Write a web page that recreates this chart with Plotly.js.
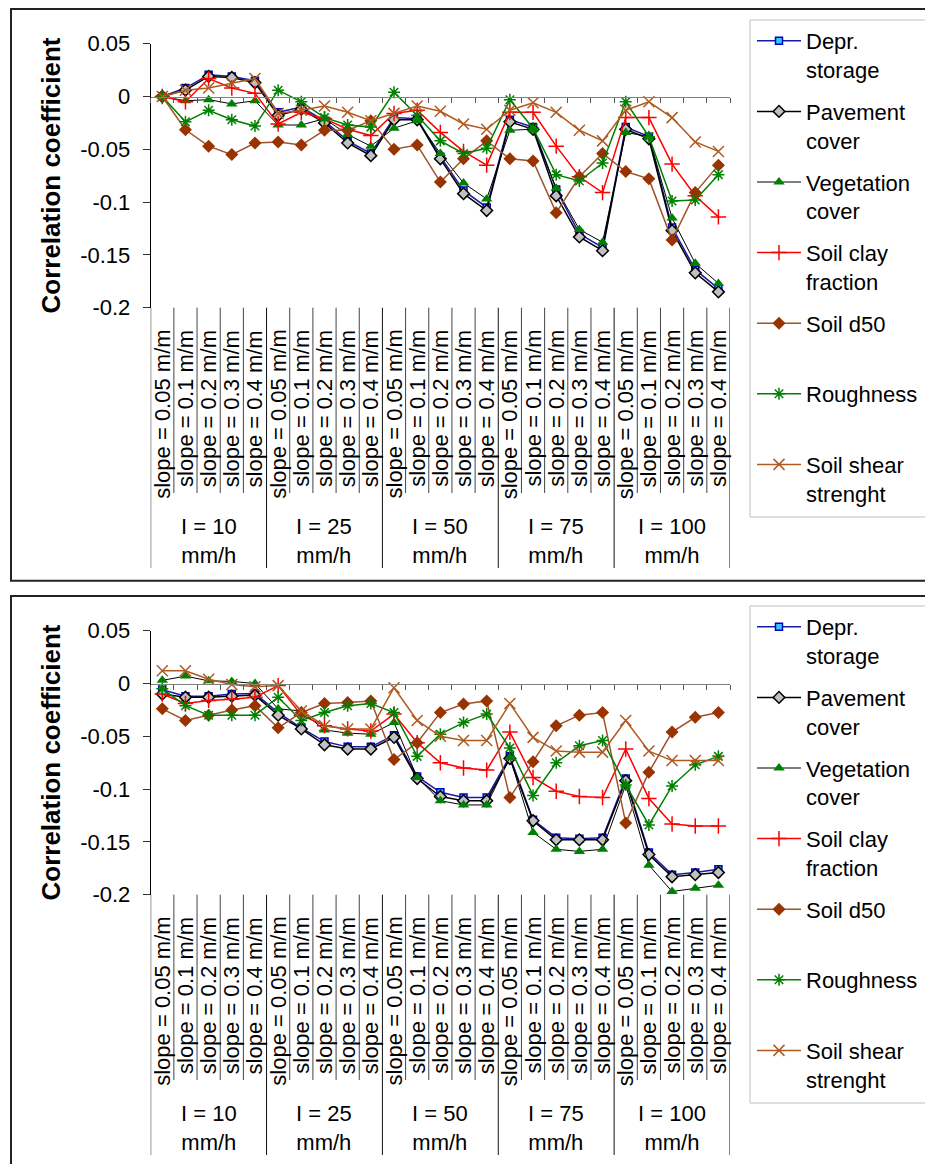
<!DOCTYPE html>
<html><head><meta charset="utf-8">
<script src="https://cdn.plot.ly/plotly-3.0.1.min.js"></script>
<style>html,body{margin:0;padding:0;background:#fff}#chart{width:925px;height:1164px}</style>
</head><body><div id="chart"></div>
<script>
// ---------- data ----------
const slopes = ["slope = 0.05 m/m","slope = 0.1 m/m","slope = 0.2 m/m","slope = 0.3 m/m","slope = 0.4 m/m"];
const intensities = ["I = 10","I = 25","I = 50","I = 75","I = 100"];
const intensityUnit = "mm/h";
const seriesNames = ["Depr.<br>storage","Pavement<br>cover","Vegetation<br>cover","Soil clay<br>fraction","Soil d50<br>&nbsp;","Roughness<br>&nbsp;","Soil shear<br>strenght"];
const yTickVals = [0.05, 0, -0.05, -0.1, -0.15, -0.2];
const yTickText = ["0.05", "0", "-0.05", "-0.1", "-0.15", "-0.2"];
const yTitle = "Correlation coefficient";

// top chart
const deprTop  = [0, 0.008, 0.0205, 0.019, 0.015, -0.015, -0.010, -0.023, -0.042, -0.054, -0.020, -0.021, -0.057, -0.089, -0.105, -0.022, -0.029, -0.088, -0.130, -0.143, -0.029, -0.038, -0.124, -0.164, -0.182];
const paveTop  = [0, 0.006, 0.019, 0.018, 0.013, -0.018, -0.012, -0.025, -0.044, -0.056, -0.022, -0.022, -0.059, -0.092, -0.108, -0.024, -0.031, -0.094, -0.133, -0.146, -0.031, -0.040, -0.127, -0.167, -0.185];
const vegTop   = [0, -0.004, -0.003, -0.007, -0.004, -0.027, -0.027, -0.021, -0.036, -0.047, -0.030, -0.023, -0.054, -0.082, -0.097, -0.032, -0.031, -0.087, -0.126, -0.138, -0.034, -0.038, -0.115, -0.158, -0.177];
const clayTop  = [0, -0.005, 0.017, 0.008, 0.003, -0.026, -0.015, -0.021, -0.031, -0.037, -0.016, -0.013, -0.034, -0.052, -0.065, -0.015, -0.015, -0.047, -0.076, -0.091, -0.020, -0.020, -0.064, -0.094, -0.114];
const d50Top   = [0, -0.0315, -0.047, -0.055, -0.044, -0.043, -0.046, -0.032, -0.032, -0.023, -0.050, -0.046, -0.081, -0.059, -0.042, -0.059, -0.061, -0.110, -0.076, -0.054, -0.071, -0.078, -0.136, -0.091, -0.065];
const roughTop = [0, -0.024, -0.013, -0.022, -0.028, 0.006, -0.005, -0.020, -0.027, -0.029, 0.004, -0.018, -0.042, -0.054, -0.049, -0.003, -0.030, -0.074, -0.080, -0.063, -0.005, -0.038, -0.099, -0.098, -0.074];
const shearTop = [0, 0.006, 0.008, 0.0125, 0.017, -0.016, -0.013, -0.009, -0.015, -0.023, -0.016, -0.009, -0.014, -0.026, -0.031, -0.013, -0.006, -0.015, -0.032, -0.042, -0.013, -0.005, -0.020, -0.043, -0.052];

// bottom chart
const deprBot  = [-0.006, -0.012, -0.012, -0.010, -0.0095, -0.0275, -0.042, -0.055, -0.060, -0.060, -0.049, -0.088, -0.103, -0.108, -0.108, -0.069, -0.129, -0.146, -0.147, -0.146, -0.090, -0.160, -0.181, -0.179, -0.176];
const paveBot  = [-0.010, -0.013, -0.013, -0.012, -0.011, -0.030, -0.043, -0.058, -0.062, -0.062, -0.051, -0.090, -0.107, -0.111, -0.111, -0.071, -0.130, -0.148, -0.148, -0.148, -0.092, -0.162, -0.183, -0.181, -0.179];
const vegBot   = [0.003, 0.007, 0.0025, 0.002, 0.0, -0.024, -0.026, -0.044, -0.047, -0.048, -0.037, -0.089, -0.111, -0.115, -0.115, -0.070, -0.141, -0.157, -0.159, -0.157, -0.096, -0.172, -0.197, -0.194, -0.191];
const clayBot  = [-0.010, -0.019, -0.016, -0.015, -0.013, -0.002, -0.030, -0.040, -0.043, -0.045, -0.029, -0.056, -0.075, -0.080, -0.082, -0.046, -0.089, -0.102, -0.107, -0.108, -0.062, -0.109, -0.133, -0.135, -0.135];
const d50Bot   = [-0.024, -0.035, -0.030, -0.025, -0.021, -0.042, -0.0275, -0.019, -0.018, -0.0165, -0.072, -0.056, -0.0275, -0.0195, -0.0165, -0.108, -0.074, -0.040, -0.030, -0.0275, -0.132, -0.084, -0.046, -0.032, -0.0275];
const roughBot = [-0.005, -0.021, -0.030, -0.030, -0.030, -0.013, -0.035, -0.0275, -0.021, -0.019, -0.0275, -0.069, -0.048, -0.037, -0.029, -0.061, -0.106, -0.075, -0.059, -0.054, -0.096, -0.134, -0.097, -0.077, -0.069];
const shearBot = [0.012, 0.012, 0.004, -0.001, -0.003, -0.002, -0.026, -0.040, -0.043, -0.043, -0.004, -0.035, -0.050, -0.054, -0.054, -0.019, -0.051, -0.064, -0.065, -0.065, -0.035, -0.064, -0.073, -0.073, -0.073];

// ---------- layout helpers ----------
const W = 925, H = 1164;
const py = p => 1 - p / H;
const FONT = "Liberation Sans, Arial, sans-serif";
const nCat = intensities.length * slopes.length;
const catIndex = Array.from({length: nCat}, (_, i) => i);

const styles = [
  {line: {color: "#1a1aa8", width: 1.5}, marker: {symbol: "square", size: 7, color: "#33ccff", line: {color: "#0000cc", width: 1.5}}},
  {line: {color: "#000000", width: 1.5}, marker: {symbol: "diamond", size: 9, color: "#c0c0c0", line: {color: "#000000", width: 1.5}}},
  {line: {color: "#000000", width: 1}, marker: {symbol: "triangle-up", size: 10, color: "#008000", line: {width: 0}}},
  {line: {color: "#ff0000", width: 1.5}, marker: {symbol: "cross-thin-open", size: 11, color: "#ff0000", line: {color: "#ff0000", width: 1.5}}},
  {line: {color: "#a0522d", width: 1.5}, marker: {symbol: "diamond", size: 10, color: "#993300", line: {width: 0}}},
  {line: {color: "#008000", width: 1.5}, marker: {symbol: "asterisk-open", size: 10, color: "#008000", line: {color: "#008000", width: 1.5}}},
  {line: {color: "#b05a20", width: 1.5}, marker: {symbol: "x-thin-open", size: 11, color: "#b05a20", line: {color: "#b05a20", width: 1.5}}}
];

const panels = [
  {off: 0, sfx: "", legend: "legend", series: [deprTop, paveTop, vegTop, clayTop, d50Top, roughTop, shearTop], boxTop: 9, boxBot: 580.7, legTop: 20},
  {off: 587, sfx: "2", legend: "legend2", series: [deprBot, paveBot, vegBot, clayBot, d50Bot, roughBot, shearBot], boxTop: 596, boxBot: 1200, legTop: 606}
];

const xDom = [150.7 / W, 730 / W];
const data = [];
const layout = {
  width: W, height: H, margin: {l: 0, r: 0, t: 0, b: 0},
  paper_bgcolor: "#ffffff", plot_bgcolor: "rgba(0,0,0,0)",
  font: {family: FONT, size: 22, color: "#000"},
  showlegend: true, annotations: [], shapes: []
};

panels.forEach((p, pi) => {
  const o = p.off;
  const xa = "xaxis" + p.sfx, ya = "yaxis" + p.sfx;
  const xr = "x" + p.sfx, yr = "y" + p.sfx;
  const yTopPx = 43.7 + o, yBotPx = 307.7 + o;
  const yDom = [py(yBotPx), py(yTopPx)];
  const zeroPos = yDom[0] + (0 - (-0.2)) / 0.25 * (yDom[1] - yDom[0]);

  p.series.forEach((vals, si) => {
    data.push({
      type: "scatter", mode: "lines+markers", x: catIndex, y: vals,
      name: seriesNames[si], xaxis: xr, yaxis: yr, legend: p.legend,
      legendgroup: "g" + pi + "_" + si,
      line: styles[si].line, marker: styles[si].marker, cliponaxis: false
    });
  });

  layout[xa] = {
    domain: xDom, range: [-0.5, nCat - 0.5], anchor: "free", position: zeroPos,
    showline: true, linecolor: "#808080", linewidth: 1.5,
    ticks: "outside", tickvals: Array.from({length: nCat + 1}, (_, k) => k - 0.5),
    ticklen: 5, tickcolor: "#555", tickwidth: 1,
    showticklabels: false, showgrid: false, zeroline: false, fixedrange: true
  };
  layout[ya] = {
    domain: yDom, range: [-0.2, 0.05], anchor: xr,
    showline: true, linecolor: "#000", linewidth: 1,
    ticks: "outside", ticklen: 7, tickcolor: "#333", tickvals: yTickVals, ticktext: yTickText,
    tickfont: {size: 22, family: FONT}, ticklabelstandoff: 8,
    showgrid: false, zeroline: false, fixedrange: true
  };

  layout[p.legend] = {
    x: 752 / W, xanchor: "left", y: py(p.legTop), yanchor: "top",
    bgcolor: "rgba(0,0,0,0)", borderwidth: 0,
    font: {family: FONT, size: 22, color: "#000"}, valign: "top", tracegroupgap: 10.4,
    itemwidth: 44
  };
  // legend frame (extends past the page edge like the reference)
  layout.shapes.push({
    type: "rect", xref: "paper", yref: "paper", x0: 750 / W, x1: 1.05,
    y0: py(p.legTop + 497), y1: py(p.legTop),
    line: {color: "#c0c0c0", width: 1}, fillcolor: "rgba(0,0,0,0)"
  });

  // y title
  layout.annotations.push({
    text: "<b>" + yTitle + "</b>", xref: "paper", yref: "paper", x: 50 / W, y: py(175.5 + o),
    xanchor: "center", yanchor: "middle", textangle: -90, showarrow: false,
    font: {family: FONT, size: 26, color: "#000"}
  });
  // inner category labels
  intensities.forEach((lab, g) => {
    slopes.forEach((s, k) => {
      layout.annotations.push({
        text: s, xref: xr, yref: "paper", x: g * slopes.length + k, y: py(328 + o),
        xanchor: "center", yanchor: "top", textangle: -90, showarrow: false,
        font: {family: FONT, size: 22, color: "#000"}
      });
    });
    layout.annotations.push({
      text: lab + "<br>" + intensityUnit, xref: xr, yref: "paper",
      x: g * slopes.length + (slopes.length - 1) / 2, y: py(541 + o),
      xanchor: "center", yanchor: "middle", showarrow: false,
      font: {family: FONT, size: 22, color: "#000"}
    });
  });
  // dividers
  for (let k = 0; k <= nCat; k++) {
    const grp = k % slopes.length === 0;
    layout.shapes.push({
      type: "line", xref: xr, yref: "paper", x0: k - 0.5, x1: k - 0.5,
      y0: py(yBotPx), y1: py((grp ? 568 : 493) + o),
      line: {color: grp ? "#111" : "#444", width: 1}
    });
  }
  // box
  layout.shapes.push({
    type: "rect", xref: "paper", yref: "paper", x0: 11 / W, x1: 1.05, y0: py(p.boxBot), y1: py(p.boxTop),
    line: {color: "#222", width: 2}, fillcolor: "rgba(0,0,0,0)", layer: "below"
  });
});

Plotly.newPlot("chart", data, layout, {staticPlot: true, displayModeBar: false});
</script>
</body></html>
